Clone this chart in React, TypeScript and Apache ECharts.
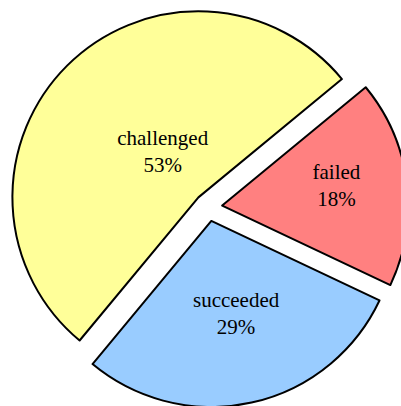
import React, { useEffect, useRef } from "react";
import * as echarts from "echarts";

const categories = ["failed", "challenged", "succeeded"];
const values = [18, 53, 29];
const colors = ["#FF8080", "#FFFF99", "#99CCFF"];
// label nudges from the default inside position (layout only)
const labelShift: [number, number][] = [
  [19, -8],
  [32, 22],
  [4, -1],
];

function hPadding([dx]: [number, number]) {
  return [0, dx < 0 ? -2 * dx : 0, 0, dx > 0 ? 2 * dx : 0];
}

export default function App() {
  const ref = useRef<HTMLDivElement>(null);
  useEffect(() => {
    const chart = echarts.init(ref.current!, null, { renderer: "svg" });
    const total = values.reduce((a, b) => a + b, 0);
    const rich: Record<string, any> = {};
    labelShift.forEach(([, dy], i) => {
      rich["s" + i] = { fontSize: 1, lineHeight: Math.max(1, 2 * Math.abs(dy)) };
    });
    chart.setOption({
      animation: false,
      backgroundColor: "#ffffff",
      series: [
        {
          type: "pie",
          center: [208.3, 207.3],
          radius: 186,
          startAngle: 334.7,
          clockwise: false,
          selectedMode: "multiple",
          selectedOffset: 14,
          avoidLabelOverlap: false,
          emphasis: { disabled: true },
          label: {
            show: true,
            position: "inside",
            color: "#000",
            fontFamily: "Liberation Serif",
            fontSize: 21,
            lineHeight: 27,
            rich,
            formatter: (p: any) => {
              const txt = `${p.name}\n${Math.round((p.value / total) * 100)}%`;
              const dy = labelShift[p.dataIndex][1];
              const sp = `{s${p.dataIndex}| }`;
              if (dy > 0) return `${sp}\n${txt}`;
              if (dy < 0) return `${txt}\n${sp}`;
              return txt;
            },
          },
          labelLine: { show: false },
          data: categories.map((name, i) => ({
            name,
            value: values[i],
            selected: true,
            itemStyle: { color: colors[i], borderColor: "#000", borderWidth: 2 },
            label: { padding: hPadding(labelShift[i]) },
            select: {
              itemStyle: { color: colors[i], borderColor: "#000", borderWidth: 2 },
              label: { color: "#000", padding: hPadding(labelShift[i]) },
            },
          })),
        },
      ],
    });
    return () => chart.dispose();
  }, []);
  return (
    <div
      ref={ref}
      style={{ position: "fixed", left: 0, top: 0, width: 401, height: 406 }}
    />
  );
}
